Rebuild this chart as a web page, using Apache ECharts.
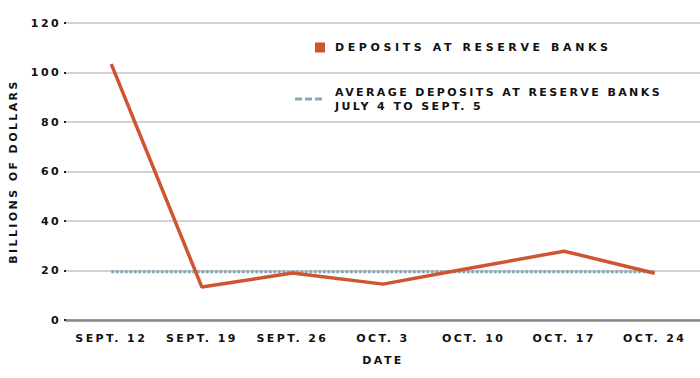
<!DOCTYPE html>
<html>
<head>
  <meta charset="utf-8">
  <title>Deposits at Reserve Banks</title>
  <script src="https://cdn.jsdelivr.net/npm/echarts@6/dist/echarts.min.js"></script>
  <style>
    html, body { margin: 0; padding: 0; background: #fff; }
    #chart { width: 700px; height: 378px; }
    /* wide, spaced-out caps like the original pixel font */
    #chart text { letter-spacing: 2.4px; }
  </style>
</head>
<body>
  <div id="chart"></div>
  <script>
    // dates on the x axis
    const dates = ['SEPT. 12', 'SEPT. 19', 'SEPT. 26', 'OCT. 3', 'OCT. 10', 'OCT. 17', 'OCT. 24'];
    // weekly deposits, billions of dollars
    const deposits = [103.4, 13.3, 19.0, 14.5, 21.2, 27.8, 18.9];
    // average July 4 to Sept. 5
    const average = [19.5, 19.5, 19.5, 19.5, 19.5, 19.5, 19.5];
    const yTicks = [0, 20, 40, 60, 80, 100, 120];

    const nameDeposits = 'DEPOSITS AT RESERVE BANKS';
    const nameAverage = 'AVERAGE DEPOSITS AT RESERVE BANKS\nJULY 4 TO SEPT. 5';

    const font = { fontFamily: 'DejaVu Sans', fontSize: 11, color: '#111', fontWeight: 'bold' };

    const chart = echarts.init(document.getElementById('chart'), null, { renderer: 'svg' });

    chart.setOption({
      animation: false,
      grid: { left: 66, right: -5, top: 23, bottom: 58 },
      legend: [
        {
          data: [nameDeposits],
          left: 310, top: 37,
          icon: 'rect', itemWidth: 10, itemHeight: 10,
          textStyle: Object.assign({ padding: [0, 0, 0, 5] }, font)
        },
        {
          data: [nameAverage],
          left: 290, top: 80,
          icon: 'path://M0,0h7v3h-7z M10,0h7v3h-7z M20,0h7v3h-7z',
          itemWidth: 27, itemHeight: 4,
          textStyle: Object.assign({ lineHeight: 14, padding: [0, 0, 0, 8] }, font)
        }
      ],
      xAxis: {
        type: 'category',
        data: dates,
        boundaryGap: true,
        name: 'DATE',
        nameLocation: 'middle',
        nameGap: 35,
        nameTextStyle: font,
        axisLine: { show: true, lineStyle: { color: '#888', width: 2.5 } },
        axisTick: { show: false },
        axisLabel: Object.assign({ margin: 13 }, font)
      },
      yAxis: {
        type: 'value',
        min: 0, max: 120, interval: 20,
        name: 'BILLIONS OF DOLLARS',
        nameLocation: 'middle',
        nameGap: 47,
        nameTextStyle: font,
        axisLine: { show: false },
        axisTick: { show: true, length: 2, lineStyle: { color: '#222', width: 2 } },
        axisLabel: Object.assign({
          margin: 5,
          formatter: v => yTicks.indexOf(v) >= 0 ? String(v) : ''
        }, font),
        splitLine: { lineStyle: { color: '#d2d2d2', width: 2 } }
      },
      series: [
        {
          name: nameAverage,
          type: 'line',
          data: average,
          showSymbol: false,
          color: '#88a7b6',
          lineStyle: { color: '#88a7b6', width: 3, type: [3, 1.5] },
          z: 2
        },
        {
          name: nameDeposits,
          type: 'line',
          data: deposits,
          showSymbol: false,
          color: '#cf5530',
          lineStyle: { color: '#cf5530', width: 3.5 },
          z: 3
        }
      ]
    });

    // the first legend line is spaced wider in the original
    document.querySelectorAll('#chart text').forEach(t => {
      const s = t.textContent;
      if (s.indexOf('AVERAGE') >= 0 || s.indexOf('JULY') >= 0) t.style.letterSpacing = '2.4px';
      else if (s.indexOf('RESERVE') >= 0) t.style.letterSpacing = '3.6px';
    });
  </script>
</body>
</html>
